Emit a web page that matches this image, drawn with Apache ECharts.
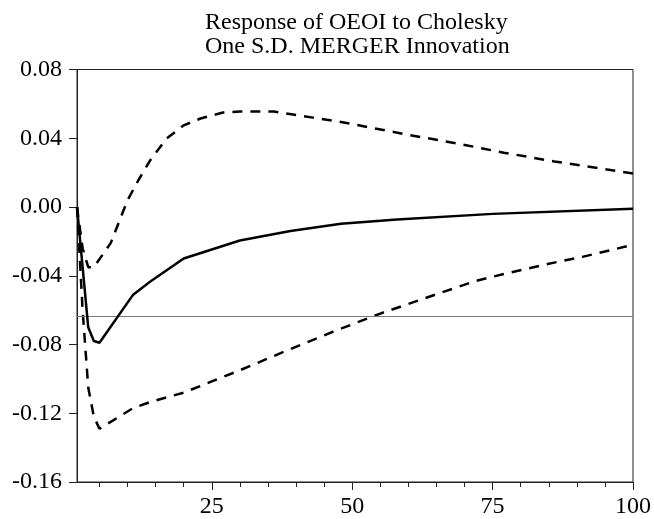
<!DOCTYPE html>
<html>
<head>
<meta charset="utf-8">
<script src="https://cdn.jsdelivr.net/npm/echarts@6/dist/echarts.min.js"></script>
<style>
html,body{margin:0;padding:0;background:#fff;}
#chart{width:654px;height:519px;}
</style>
</head>
<body>
<div id="chart"></div>
<script>
// ---- Data ----
const titleLines = ['Response of OEOI to Cholesky', 'One S.D. MERGER Innovation'];

const responsePeriods = [1, 2, 3, 4, 5, 11, 14, 20, 30, 39, 48, 58, 75, 100];
const responseValues  = [0, -0.035, -0.070, -0.078, -0.079, -0.051, -0.0435, -0.030, -0.0195, -0.014, -0.0098, -0.0073, -0.004, -0.001];

const upperPeriods = [1, 2, 3, 4, 7, 10, 12, 14, 17, 20, 23, 27, 30, 36, 38, 43, 48, 52, 60, 69, 77, 86, 100];
const upperValues  = [0, -0.024, -0.035, -0.035, -0.021, 0.004, 0.016, 0.027, 0.040, 0.0475, 0.0515, 0.055, 0.0555, 0.0555, 0.0545, 0.052, 0.0495, 0.047, 0.042, 0.0368, 0.0316, 0.0265, 0.0195];

const lowerPeriods = [1, 2, 3, 4, 5, 7, 11, 14, 20, 25, 30, 38, 47, 55, 63, 72, 77, 85, 91, 100];
const lowerValues  = [0, -0.060, -0.105, -0.122, -0.129, -0.125, -0.117, -0.1135, -0.108, -0.1015, -0.095, -0.084, -0.072, -0.062, -0.053, -0.043, -0.039, -0.033, -0.029, -0.022];

const referenceLevel = -0.0634;

const xLabelTicks = [25, 50, 75, 100];
const xMinorTicks = [5, 10, 15, 20, 30, 35, 40, 45, 55, 60, 65, 70, 80, 85, 90, 95];
const yMin = -0.16, yMax = 0.08, yStep = 0.04;

// ---- Build ----
function pairs(p, v) { return p.map((t, i) => [t, v[i]]); }
const FONT = '"Liberation Serif", "Times New Roman", serif';

const chart = echarts.init(document.getElementById('chart'), null, {renderer: 'canvas'});
chart.setOption({
  backgroundColor: '#ffffff',
  animation: false,
  title: {
    text: titleLines.join('\n'),
    left: 205,
    top: 11,
    padding: 0,
    textStyle: {fontFamily: FONT, fontSize: 24, fontWeight: 'normal', color: '#000', lineHeight: 24}
  },
  grid: {
    left: 77, right: 16, top: 69.5, bottom: 32,
    show: true, borderColor: '#222', borderWidth: 1, backgroundColor: 'transparent'
  },
  xAxis: [{
    type: 'value', min: 1, max: 100,
    axisLine: {show: true, onZero: false, lineStyle: {color: '#222', width: 1}},
    splitLine: {show: false},
    axisTick: {show: true, customValues: xLabelTicks, length: 8, lineStyle: {color: '#222'}},
    axisLabel: {show: true, customValues: xLabelTicks, margin: 13, fontFamily: FONT, fontSize: 24, color: '#000'}
  }, {
    type: 'value', min: 1, max: 100, position: 'bottom', gridIndex: 0,
    axisLine: {show: false, onZero: false},
    splitLine: {show: false},
    axisTick: {show: true, customValues: xMinorTicks, length: 5, lineStyle: {color: '#222'}},
    axisLabel: {show: false}
  }],
  yAxis: {
    type: 'value', min: yMin, max: yMax, interval: yStep,
    axisLine: {show: true, onZero: false, lineStyle: {color: '#222', width: 1}},
    splitLine: {show: false},
    axisTick: {show: true, length: 8, lineStyle: {color: '#222'}},
    axisLabel: {margin: 15, fontFamily: FONT, fontSize: 24, color: '#000', formatter: v => v.toFixed(2)}
  },
  series: [{
    name: 'Response', type: 'line', data: pairs(responsePeriods, responseValues),
    symbol: 'none', lineStyle: {color: '#000', width: 2.5}, z: 5,
    markLine: {
      silent: true, symbol: 'none', precision: 6, label: {show: false},
      lineStyle: {color: '#7a7a7a', width: 1, type: 'solid'},
      data: [{yAxis: referenceLevel}]
    }
  }, {
    name: 'Upper', type: 'line', data: pairs(upperPeriods, upperValues),
    symbol: 'none', lineStyle: {color: '#000', width: 2.5, type: [10, 8]}, z: 4
  }, {
    name: 'Lower', type: 'line', data: pairs(lowerPeriods, lowerValues),
    symbol: 'none', lineStyle: {color: '#000', width: 2.5, type: [10, 8]}, z: 4
  }]
});
</script>
</body>
</html>
